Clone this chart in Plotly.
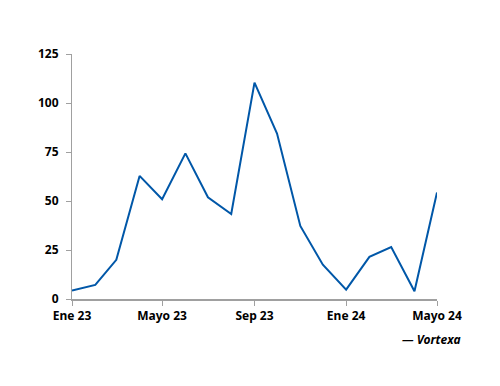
import plotly.graph_objects as go

months = ["2023-01-01", "2023-02-01", "2023-03-01", "2023-04-01", "2023-05-01", "2023-06-01",
          "2023-07-01", "2023-08-01", "2023-09-01", "2023-10-01", "2023-11-01", "2023-12-01",
          "2024-01-01", "2024-02-01", "2024-03-01", "2024-04-01", "2024-05-01"]
values = [4.3, 7.2, 20.0, 62.8, 50.9, 74.3, 51.9, 43.4, 110.4, 84.4, 37.3, 17.5,
          4.8, 21.5, 26.5, 4.0, 54.3]
tick_vals = ["2023-01-01", "2023-05-01", "2023-09-01", "2024-01-01", "2024-05-01"]
tick_text = ["Ene 23", "Mayo 23", "Sep 23", "Ene 24", "Mayo 24"]
y_ticks = [0, 25, 50, 75, 100, 125]

font = "Noto Sans"

fig = go.Figure()
fig.add_trace(go.Scatter(x=months, y=values, mode="lines",
                         line=dict(color="#0057A8", width=2), showlegend=False))

fig.update_layout(
    width=500, height=386,
    margin=dict(l=63.5, r=71, t=45.5, b=94.5),
    paper_bgcolor="white", plot_bgcolor="white",
    font=dict(family=font, size=12, color="black"),
    xaxis=dict(range=["2023-01-01", "2024-05-01"], tickmode="array",
               tickvals=tick_vals, ticktext=tick_text, showgrid=False,
               showline=True, linecolor="#a0a0a0", linewidth=2,
               ticks="outside", ticklen=5, tickcolor="#a0a0a0", tickwidth=1,
               tickfont=dict(family=font, size=12, color="black", weight="bold"),
               zeroline=False),
    yaxis=dict(range=[0, 125], tickvals=y_ticks, showgrid=False,
               showline=True, linecolor="#a0a0a0", linewidth=1,
               ticks="outside", ticklen=5, tickcolor="#a0a0a0",
               ticklabelstandoff=5,
               tickfont=dict(family=font, size=12, color="black", weight="bold"),
               zeroline=False),
    annotations=[dict(text="<b><i>— Vortexa</i></b>", xref="paper", yref="paper",
                      x=1.071, y=-0.167, xanchor="right", yanchor="middle", showarrow=False,
                      font=dict(family=font, size=12, color="black"))],
)

fig.write_html("out.html")
